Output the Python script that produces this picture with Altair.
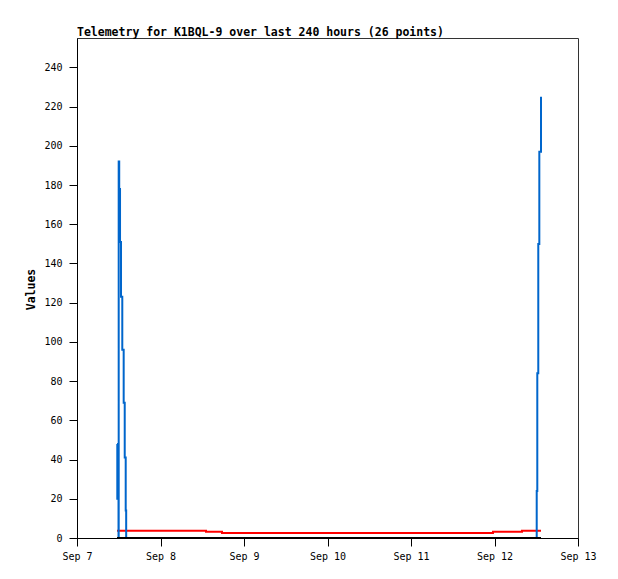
import altair as alt
import pandas as pd

# timestamps (local time)
times = [
    "2024-09-07T11:30:00", "2024-09-07T11:35:00", "2024-09-07T11:56:00",
    "2024-09-07T11:59:00", "2024-09-07T12:08:00", "2024-09-07T12:22:00",
    "2024-09-07T12:39:00", "2024-09-07T13:01:00", "2024-09-07T13:25:00",
    "2024-09-07T13:43:00", "2024-09-07T14:00:00", "2024-09-07T14:08:00",
    "2024-09-08T13:05:00", "2024-09-08T17:41:00", "2024-09-11T23:34:00",
    "2024-09-12T07:54:00", "2024-09-12T12:08:00", "2024-09-12T12:18:00",
    "2024-09-12T12:35:00", "2024-09-12T12:53:00", "2024-09-12T13:22:00",
]
blue_vals = [48, 20, 0, 192, 178, 151, 123, 96, 69, 41, 14, 0,
             0, 0, 0, 0, 24, 84, 150, 197, 225]
red_vals = [3.7, 3.7, 3.7, 3.7, 3.7, 3.7, 3.7, 3.7, 3.7, 3.7, 3.7, 3.7,
            3.2, 2.6, 3.2, 3.7, 3.7, 3.7, 3.7, 3.7, 3.7]
black_vals = [0] * len(times)

y_ticks = [0, 20, 40, 60, 80, 100, 120, 140, 160, 180, 200, 220, 240]
x_tick_days = [7, 8, 9, 10, 11, 12, 13]

df = pd.DataFrame({"t": times, "blue": blue_vals, "red": red_vals, "black": black_vals})

MONO = "DejaVu Sans Mono"

x_enc = alt.X(
    "t:T",
    scale=alt.Scale(domain=[alt.DateTime(year=2024, month=9, date=7),
                            alt.DateTime(year=2024, month=9, date=13)]),
    axis=alt.Axis(
        title=None,
        values=[alt.DateTime(year=2024, month=9, date=d) for d in x_tick_days],
        format="%b %-d",
        labelFont=MONO, labelFontSize=10, labelColor="black",
        tickSize=8, tickColor="black", domainColor="black",
        labelPadding=5, grid=False, labelFlush=False,
    ),
)

y_axis = alt.Axis(
    title="Values", values=y_ticks,
    labelFont=MONO, labelFontSize=10, labelColor="black",
    titleFont=MONO, titleFontSize=11.5, titleFontWeight="bold", titleColor="black",
    titleX=-46, titleY=251, titleAngle=270, titleAlign="center", titleBaseline="middle",
    tickSize=8, tickColor="black", domainColor="black", labelPadding=7, grid=False,
)


def layer(field, color):
    y = alt.Y(f"{field}:Q", scale=alt.Scale(domain=[0, 255], nice=False, zero=False),
              axis=y_axis)
    return alt.Chart(df).mark_line(interpolate="step-after", color=color, strokeWidth=2,
                                   clip=True).encode(x=x_enc, y=y)


chart = alt.layer(
    layer("red", "#ff0000"),
    layer("blue", "#0066cc"),
    layer("black", "#000000"),
).properties(
    width=501, height=500,
    title=alt.TitleParams(
        "Telemetry for K1BQL-9 over last 240 hours (26 points)",
        font=MONO, fontSize=11.5, fontWeight="bold", color="black",
        anchor="start", frame="group", baseline="alphabetic", offset=5, dy=14,
    ),
    autosize=alt.AutoSizeParams(type="none"),
    padding={"left": 69, "top": 30, "right": 30, "bottom": 30},
).configure(background="white").configure_view(stroke="#333333", strokeWidth=1)

chart.save("out.html", embed_options={"renderer": "svg", "actions": False})
